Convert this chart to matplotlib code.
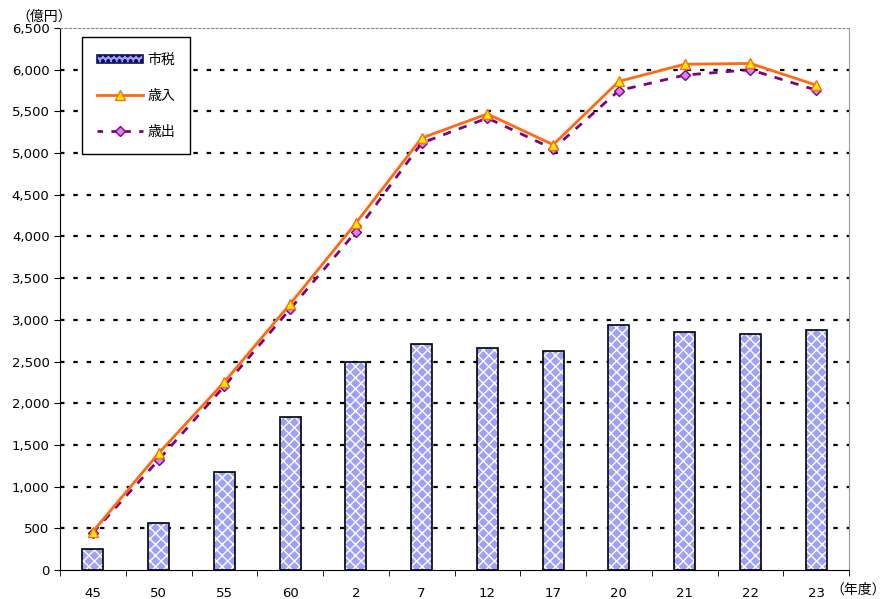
import numpy as np
import matplotlib
matplotlib.use('Agg')
import matplotlib.pyplot as plt
from matplotlib.patches import Patch
from matplotlib.lines import Line2D

plt.rcParams['font.family'] = ['DejaVu Sans', 'Noto Sans CJK JP']

# 年度ラベルと各系列（億円）
years = ['45', '50', '55', '60', '2', '7', '12', '17', '20', '21', '22', '23']
shizei = [250, 560, 1180, 1830, 2490, 2710, 2660, 2630, 2940, 2855, 2825, 2875]
sainyu = [460, 1400, 2255, 3190, 4160, 5180, 5470, 5100, 5860, 6065, 6075, 5815]
saishutsu = [445, 1320, 2205, 3130, 4055, 5120, 5420, 5050, 5750, 5935, 6000, 5755]

fig = plt.figure(figsize=(8.88, 5.99), dpi=100)
ax = fig.add_axes([60 / 888, 29 / 599, 789 / 888, 542 / 599])

x = np.arange(len(years))

# bars: blue diamonds (white hatch on blue) then black outline
ax.bar(x, shizei, width=0.32, color='#a0a0f8', edgecolor='white',
       hatch='xxx', linewidth=0, zorder=2)
ax.bar(x, shizei, width=0.32, facecolor='none', edgecolor='black',
       linewidth=1.2, zorder=3)

ax.plot(x, sainyu, color='#ff6a10', lw=2, marker='^', ms=7,
        mfc='#ffee00', mec='#ff6a10', mew=1, zorder=5)
ax.plot(x, saishutsu, color='#800080', lw=2, ls=(0, (3, 3)), marker='D', ms=5.5,
        mfc='#cc88ee', mec='#800080', mew=1, zorder=4)

# legend proxies
h_bar = Patch(facecolor='#a0a0f8', edgecolor='#101060', hatch='ooo', lw=1.2)
h_in = Line2D([], [], color='#ff6a10', lw=2, marker='^', ms=7,
              mfc='#ffee00', mec='#ff6a10')
h_out = Line2D([], [], color='#800080', lw=2, ls=(0, (2, 3)), marker='D', ms=5.5,
               mfc='#cc88ee', mec='#800080')
leg = ax.legend([h_bar, h_in, h_out], ['市税', '歳入', '歳出'],
                loc='upper left', bbox_to_anchor=(0.028, 0.983),
                borderaxespad=0, fancybox=False, framealpha=1,
                edgecolor='black', fontsize=10, labelspacing=1.6,
                handlelength=3.3, borderpad=1.1, handletextpad=0.3,
                handleheight=0.5)
leg.get_frame().set_linewidth(1.0)
leg.set_zorder(10)

ax.set_xlim(-0.5, len(years) - 0.5)
ax.set_ylim(0, 6500)
ax.set_yticks(np.arange(0, 6501, 500))
ax.set_yticklabels([f'{v:,}' for v in range(0, 6501, 500)], fontsize=9.5)
ax.set_xticks(x)
ax.set_xticklabels(years, fontsize=9.5)
ax.set_xticks(np.arange(-0.5, len(years), 1), minor=True)
ax.tick_params(axis='x', which='major', length=0, pad=12)
ax.tick_params(axis='x', which='minor', length=4, direction='out')
ax.tick_params(axis='y', length=4, direction='out')

for v in range(500, 6500, 500):
    ax.axhline(v, color='black', lw=1.6, ls=(0, (2, 4)), zorder=1)

ax.spines['top'].set_color('#888888')
ax.spines['top'].set_linestyle((0, (2, 2)))
ax.spines['right'].set_color('#999999')
ax.spines['left'].set_color('black')
ax.spines['bottom'].set_color('black')

fig.text(16 / 888, 1 - 17 / 599, '（億円）', fontsize=10, va='center', ha='left')
fig.text(886 / 888, 1 - 590 / 599, '（年度）', fontsize=10, va='center', ha='right')

fig.savefig('out.png', dpi=100)
